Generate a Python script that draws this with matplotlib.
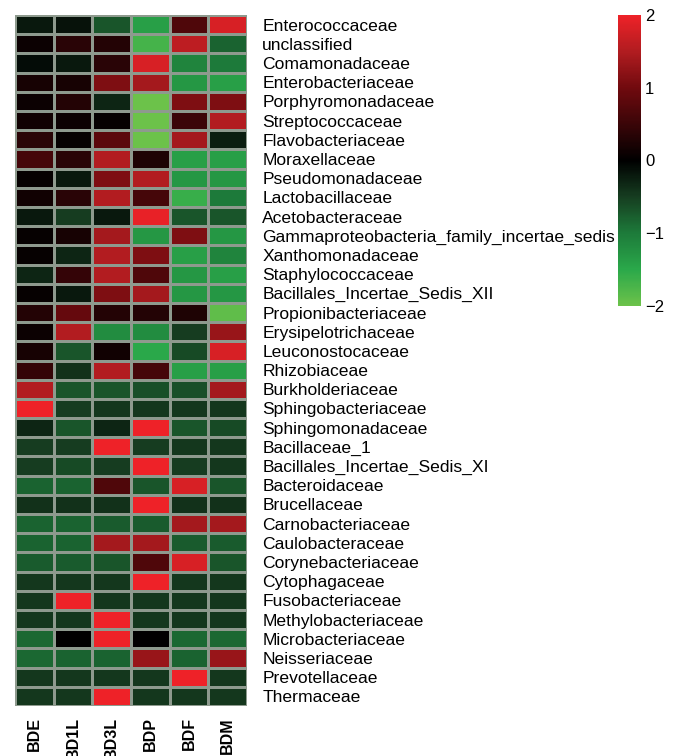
import numpy as np
import matplotlib
matplotlib.use("Agg")
import matplotlib.pyplot as plt
from matplotlib.colors import LinearSegmentedColormap, Normalize

plt.rcParams['font.family'] = ['Liberation Sans', 'DejaVu Sans']

samples = ["BDE", "BD1L", "BD3L", "BDP", "BDF", "BDM"]
families = [
    "Enterococcaceae", "unclassified", "Comamonadaceae", "Enterobacteriaceae",
    "Porphyromonadaceae", "Streptococcaceae", "Flavobacteriaceae", "Moraxellaceae",
    "Pseudomonadaceae", "Lactobacillaceae", "Acetobacteraceae",
    "Gammaproteobacteria_family_incertae_sedis", "Xanthomonadaceae",
    "Staphylococcaceae", "Bacillales_Incertae_Sedis_XII", "Propionibacteriaceae",
    "Erysipelotrichaceae", "Leuconostocaceae", "Rhizobiaceae", "Burkholderiaceae",
    "Sphingobacteriaceae", "Sphingomonadaceae", "Bacillaceae_1",
    "Bacillales_Incertae_Sedis_XI", "Bacteroidaceae", "Brucellaceae",
    "Carnobacteriaceae", "Caulobacteraceae", "Corynebacteriaceae", "Cytophagaceae",
    "Fusobacteriaceae", "Methylobacteriaceae", "Microbacteriaceae", "Neisseriaceae",
    "Prevotellaceae", "Thermaceae",
]
zscores = [
    [-0.2, -0.15, -0.7, -1.4, 0.7, 1.8],
    [0.1, 0.35, 0.3, -1.7, 1.6, -0.8],
    [-0.1, -0.2, 0.35, 1.8, -1.1, -1.0],
    [0.2, 0.2, 1.1, 1.4, -1.3, -1.4],
    [0.1, 0.3, -0.3, -2.0, 1.1, 1.1],
    [0.15, 0.1, 0.05, -2.0, 0.5, 1.5],
    [0.35, 0.05, 0.8, -2.0, 1.4, -0.25],
    [0.6, 0.35, 1.5, 0.25, -1.4, -1.4],
    [0.05, -0.2, 1.1, 1.5, -1.3, -1.3],
    [0.15, 0.35, 1.5, 0.6, -1.6, -1.0],
    [-0.2, -0.5, -0.2, 1.95, -0.7, -0.7],
    [0.05, 0.2, 1.4, -1.3, 1.1, -1.3],
    [0.05, -0.3, 1.5, 1.1, -1.4, -1.1],
    [-0.3, 0.45, 1.5, 0.7, -1.3, -1.4],
    [0.05, -0.2, 1.1, 1.4, -1.3, -1.3],
    [0.3, 0.9, 0.3, 0.3, 0.25, -1.9],
    [0.1, 1.5, -1.2, -1.2, -0.5, 1.3],
    [0.2, -0.7, 0.15, -1.5, -0.6, 1.8],
    [0.45, -0.4, 1.5, 0.6, -1.4, -1.4],
    [1.5, -0.7, -0.7, -0.65, -0.65, 1.4],
    [2.0, -0.5, -0.45, -0.45, -0.45, -0.45],
    [-0.3, -0.7, -0.3, 2.0, -0.7, -0.6],
    [-0.5, -0.5, 2.0, -0.5, -0.45, -0.45],
    [-0.5, -0.6, -0.5, 2.0, -0.5, -0.45],
    [-0.8, -0.8, 0.7, -0.7, 1.8, -0.7],
    [-0.4, -0.4, -0.4, 2.0, -0.4, -0.4],
    [-0.8, -0.8, -0.75, -0.75, 1.4, 1.4],
    [-0.8, -0.8, 1.4, 1.4, -0.75, -0.75],
    [-0.75, -0.75, -0.7, 0.7, 1.8, -0.7],
    [-0.45, -0.45, -0.45, 2.0, -0.45, -0.45],
    [-0.45, 2.0, -0.45, -0.45, -0.45, -0.45],
    [-0.45, -0.45, 2.0, -0.45, -0.45, -0.45],
    [-0.85, 0.0, 2.0, 0.0, -0.85, -0.85],
    [-0.85, -0.8, -0.8, 1.3, -0.8, 1.3],
    [-0.45, -0.45, -0.45, -0.45, 2.0, -0.45],
    [-0.45, -0.45, 2.0, -0.45, -0.45, -0.45],
]

data = np.array(zscores)
cmap = LinearSegmentedColormap.from_list(
    "gbr",
    [(0.0, "#6cc24a"), (0.125, "#2aa84a"), (0.25, "#1d7a3a"), (0.375, "#163d20"),
     (0.5, "#000000"), (0.625, "#3a0508"), (0.75, "#700a0e"), (0.875, "#b01c20"),
     (1.0, "#ee2228")],
)
norm = Normalize(vmin=-2, vmax=2)

W, H = 676, 756
fig = plt.figure(figsize=(W / 100, H / 100), dpi=100)
ax = fig.add_axes([15 / W, 1 - 706 / H, (247 - 15) / W, (706 - 15) / H])
mesh = ax.pcolormesh(data, cmap=cmap, norm=norm, edgecolors="#8e9a8e", linewidth=0.9)
ax.set_xlim(0, len(samples))
ax.set_ylim(len(families), 0)
for s in ax.spines.values():
    s.set_visible(False)
ax.set_xticks(np.arange(len(samples)) + 0.5)
ax.set_xticklabels(samples, rotation=90, fontsize=11.5, fontweight="bold", va="top")
ax.set_yticks(np.arange(len(families)) + 0.5)
ax.set_yticklabels(families, fontsize=12.6)
ax.yaxis.tick_right()
ax.tick_params(axis="both", length=0)
ax.tick_params(axis="y", pad=11)
ax.tick_params(axis="x", pad=8)

cax = fig.add_axes([618 / W, 1 - 306 / H, 23 / W, 291 / H])
cb = fig.colorbar(mesh, cax=cax)
cb.outline.set_visible(False)
cb.set_ticks([-2, -1, 0, 1, 2])
cb.set_ticklabels(["\u22122", "\u22121", "0", "1", "2"])
cax.tick_params(length=0, labelsize=12, pad=3)

fig.savefig("out.png", dpi=100)
